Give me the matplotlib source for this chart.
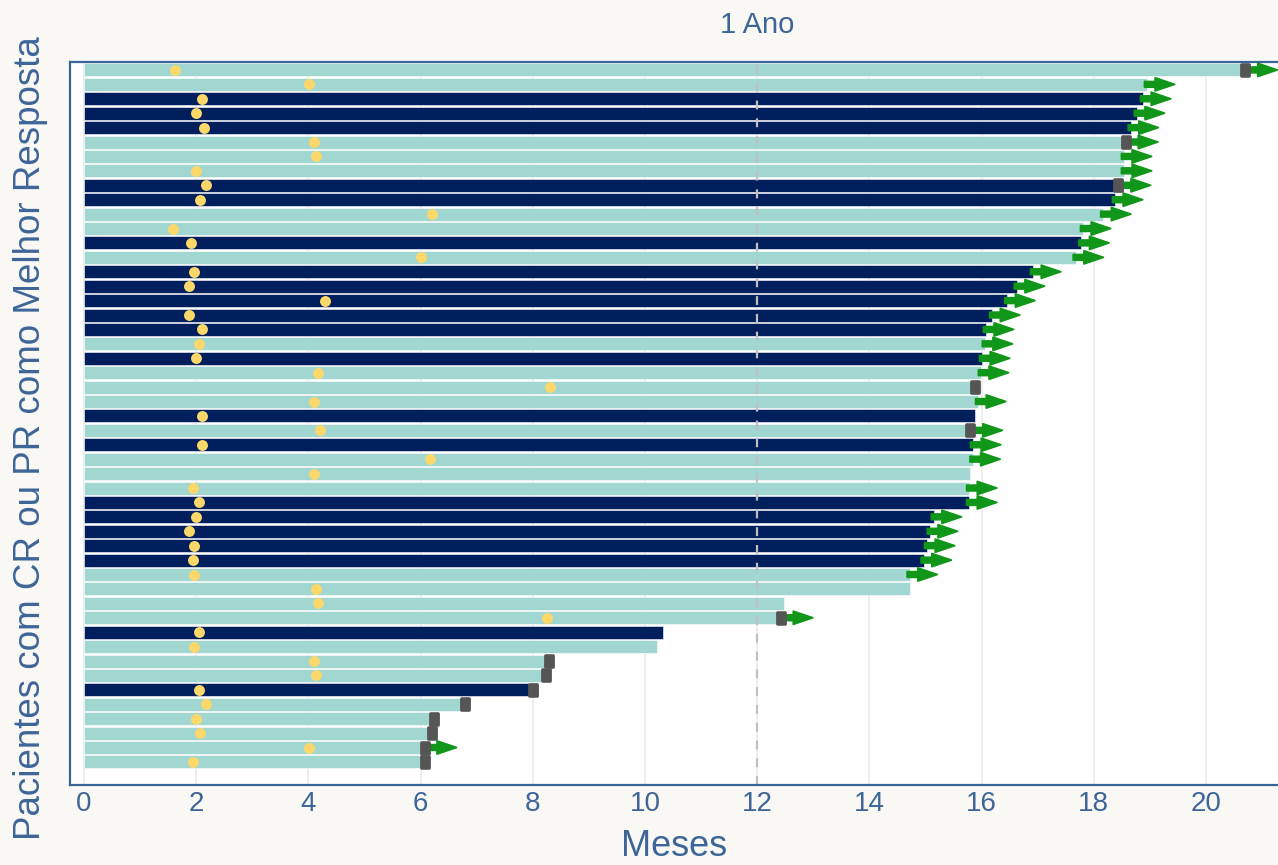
import numpy as np
import matplotlib.pyplot as plt
from matplotlib.path import Path

# ================================
# 1. DATA (one row per patient, top to bottom)
# ================================
duration = [20.78, 18.95, 18.88, 18.77, 18.66, 18.65, 18.54, 18.54, 18.52, 18.38,
            18.17, 17.81, 17.78, 17.68, 16.92, 16.63, 16.46, 16.19, 16.08, 16.06,
            16.01, 15.99, 15.96, 15.94, 15.88, 15.88, 15.85, 15.84, 15.79, 15.78,
            15.78, 15.15, 15.08, 15.03, 14.97, 14.72, 14.72, 12.48, 12.50, 10.32,
            10.21, 8.36, 8.32, 8.09, 6.88, 6.31, 6.29, 6.15, 6.15]

response_start = [1.62, 4.01, 2.10, 2.00, 2.14, 4.10, 4.14, 2.00, 2.17, 2.07,
                  6.20, 1.59, 1.91, 6.00, 1.96, 1.87, 4.30, 1.87, 2.10, 2.05,
                  2.00, 4.17, 8.31, 4.10, 2.10, 4.21, 2.10, 6.17, 4.10, 1.94,
                  2.05, 2.00, 1.87, 1.96, 1.94, 1.96, 4.14, 4.17, 8.25, 2.05,
                  1.96, 4.10, 4.14, 2.05, 2.17, 2.00, 2.07, 4.01, 1.94]

# 1 = dark bar, 0 = light bar
dark = [0, 0, 1, 1, 1, 0, 0, 0, 1, 1,
        0, 0, 1, 0, 1, 1, 1, 1, 1, 0,
        1, 0, 0, 0, 1, 0, 1, 0, 0, 0,
        1, 1, 1, 1, 1, 0, 0, 0, 0, 1,
        0, 0, 0, 1, 0, 0, 0, 0, 0]

# gray end marker
end_marker = [1, 0, 0, 0, 0, 1, 0, 0, 1, 0,
              0, 0, 0, 0, 0, 0, 0, 0, 0, 0,
              0, 0, 1, 0, 0, 1, 0, 0, 0, 0,
              0, 0, 0, 0, 0, 0, 0, 0, 1, 0,
              0, 1, 1, 1, 1, 1, 1, 1, 1]

# green arrow = ongoing
ongoing = [1, 1, 1, 1, 1, 1, 1, 1, 1, 1,
           1, 1, 1, 1, 1, 1, 1, 1, 1, 1,
           1, 1, 0, 1, 0, 1, 1, 1, 0, 1,
           1, 1, 1, 1, 1, 1, 0, 0, 1, 0,
           0, 0, 0, 0, 0, 0, 0, 1, 0]

x_ticks = [0, 2, 4, 6, 8, 10, 12, 14, 16, 18, 20]

LIGHT = '#a2d6d0'
DARK = '#001f5c'
GREEN = '#109618'
GRAY = '#555555'
YELLOW = '#fcd86a'
BLUE_TXT = '#3d6598'

plt.rcParams['font.family'] = ['Liberation Sans', 'DejaVu Sans']

# ================================
# 2. SWIMMER PLOT
# ================================
fig = plt.figure(figsize=(12.78, 8.65), dpi=100, facecolor='#f9f8f4')
ax = fig.add_axes([70/1278, 80/865, 1 - 70/1278, (785-62)/865])
ax.set_facecolor('white')

y = np.arange(len(duration))
colors = [DARK if d else LIGHT for d in dark]
ax.barh(y, duration, height=0.9, color=colors, edgecolor='white',
        linewidth=0.4, zorder=2)

# ongoing arrows
for i in y:
    if ongoing[i]:
        ax.arrow(duration[i] - 0.05, i, 0.55, 0, width=0.42, head_width=0.95,
                 head_length=0.36, length_includes_head=True,
                 color=GREEN, zorder=3)

# gray end markers (rounded rectangle)
w, h, r = 0.37, 0.5, 0.12
verts = [(-w + r, -h), (w - r, -h), (w, -h), (w, -h + r), (w, h - r), (w, h),
         (w - r, h), (-w + r, h), (-w, h), (-w, h - r), (-w, -h + r), (-w, -h),
         (-w + r, -h)]
codes = [Path.MOVETO, Path.LINETO, Path.CURVE3, Path.CURVE3, Path.LINETO,
         Path.CURVE3, Path.CURVE3, Path.LINETO, Path.CURVE3, Path.CURVE3,
         Path.LINETO, Path.CURVE3, Path.CURVE3]
rrect = Path(verts, codes)
mk = [i for i in y if end_marker[i]]
ax.scatter([duration[i] - 0.08 for i in mk], mk, marker=rrect, s=110,
           color=GRAY, zorder=4, linewidths=0)

# response onset dots
ax.scatter(response_start, y, s=62, color=YELLOW, zorder=5, linewidths=0)

# 1 year line
ax.axvline(12, color='#c0c0c0', linestyle=(0, (4, 4)), linewidth=1.6, zorder=2.5)
ax.text(12, 1.051, '1 Ano', transform=ax.get_xaxis_transform(), ha='center',
        va='center', fontsize=21, color=BLUE_TXT)

# ================================
# 3. AXES STYLE
# ================================
ax.set_xlim(-0.25, (1278 - 84) / 56.1)
ax.set_ylim(len(duration) - 1 + 1.6, -0.55)
ax.set_xticks(x_ticks)
ax.set_yticks([])
ax.grid(axis='x', color='#ebebeb', linewidth=1.2, zorder=0)
ax.set_axisbelow(True)
ax.tick_params(axis='x', length=0, pad=4, labelsize=20, labelcolor=BLUE_TXT)

for side in ['left', 'top', 'bottom']:
    ax.spines[side].set_color('#3b6496')
    ax.spines[side].set_linewidth(1.6)
ax.spines['right'].set_visible(False)

ax.set_xlabel('Meses', fontsize=26, color=BLUE_TXT, labelpad=9)
ax.set_ylabel('Pacientes com CR ou PR como Melhor Resposta', fontsize=26.5,
              color=BLUE_TXT)
ax.yaxis.set_label_coords(-0.018, 0.48)

plt.savefig('out.png', dpi=100, facecolor=fig.get_facecolor())
